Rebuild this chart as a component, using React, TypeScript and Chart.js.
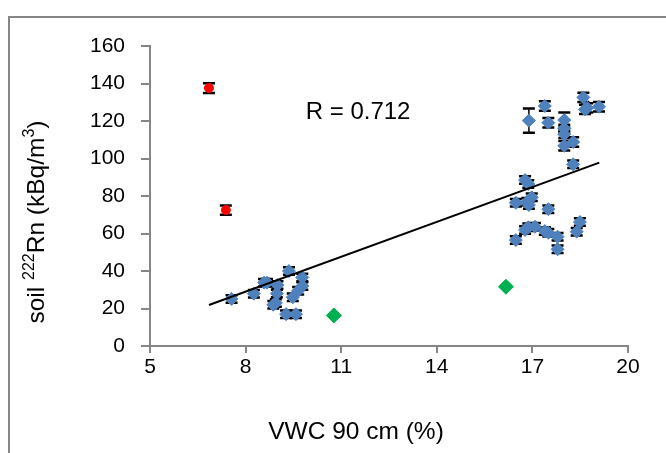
import React, { useEffect, useRef } from 'react';
import { Chart, registerables } from 'chart.js';

Chart.register(...registerables);

// ---- data ----
const blueX = [7.56, 8.26, 8.58, 8.67, 9.0, 8.98, 8.95, 8.87, 9.36, 9.27, 9.58, 9.48, 9.65, 9.78, 9.78,
  16.89, 17.39, 17.5, 18.0, 18.0, 18.0, 18.0, 18.28, 18.28, 18.6, 18.65, 18.72, 19.09,
  16.77, 16.87, 16.48, 16.84, 16.98, 16.89, 17.5, 18.49, 18.39,
  16.48, 16.77, 16.87, 17.08, 17.39, 17.5, 17.79, 17.79];
const blueY = [25.1, 27.9, 33.8, 33.8, 32.5, 28, 23, 22, 40, 17, 17, 26, 29.5, 32, 36.6,
  120.2, 128, 119.1, 120.5, 116, 112.9, 106.8, 108.8, 96.9, 132.6, 126.2, 127, 127.6,
  88.5, 86.4, 76.4, 77, 79.3, 75.2, 73, 66.1, 61,
  56.5, 61.9, 63.3, 63.6, 61.3, 60.4, 58.3, 51.6];
const blueErr = [2, 2, 2, 2, 2, 2, 2, 2, 2, 2, 2, 2, 2, 2, 2,
  6.5, 2.5, 2.5, 4, 2, 2, 2.5, 2.5, 2, 2.5, 2.5, 2.5, 2.5,
  2, 2, 2, 2, 2, 2, 2, 2, 2,
  2, 2, 2, 2, 2, 2, 2, 2];
const redX = [6.85, 7.38];
const redY = [137.6, 72.5];
const redErr = [2.6, 2.5];
const greenX = [10.77, 16.17];
const greenY = [16.3, 31.6];
const trendX = [6.85, 19.1];
const trendY = [21.9, 97.8];
const rText = 'R = 0.712';
const rPos = [11.53, 124.8];
const xTitle = 'VWC 90 cm (%)';
// y title pieces: [text, isSuperscript]
const yTitleParts: [string, boolean][] = [['soil ', false], ['222', true], ['Rn (kBq/m', false], ['3', true], [')', false]];

const FONT = "'Liberation Sans', Arial, sans-serif";
const AXIS = '#868686';

const toPts = (xs: number[], ys: number[]) => xs.map((x, i) => ({ x, y: ys[i] }));

const errorBars = {
  id: 'errorBars',
  beforeDatasetsDraw(chart: any) {
    const ctx = chart.ctx;
    const ys = chart.scales.y;
    chart.data.datasets.forEach((ds: any, di: number) => {
      if (!ds.errors) return;
      const meta = chart.getDatasetMeta(di);
      meta.data.forEach((pt: any, i: number) => {
        const v = ds.data[i].y;
        const e = ds.errors[i];
        const top = ys.getPixelForValue(v + e);
        const bot = ys.getPixelForValue(v - e);
        ctx.save();
        ctx.strokeStyle = '#000';
        ctx.lineWidth = 1.5;
        ctx.beginPath();
        ctx.moveTo(pt.x, top);
        ctx.lineTo(pt.x, bot);
        ctx.stroke();
        ctx.lineWidth = 2.5;
        ctx.beginPath();
        ctx.moveTo(pt.x - 6, top);
        ctx.lineTo(pt.x + 6, top);
        ctx.moveTo(pt.x - 6, bot);
        ctx.lineTo(pt.x + 6, bot);
        ctx.stroke();
        ctx.restore();
      });
    });
  },
};

const texts = {
  id: 'texts',
  afterDraw(chart: any) {
    const ctx = chart.ctx;
    const area = chart.chartArea;
    ctx.save();
    ctx.fillStyle = '#000';
    // R label at data position
    const px = chart.scales.x.getPixelForValue(rPos[0]);
    const py = chart.scales.y.getPixelForValue(rPos[1]);
    ctx.font = `24px ${FONT}`;
    ctx.textAlign = 'center';
    ctx.textBaseline = 'middle';
    ctx.fillText(rText, px, py);
    // x title
    ctx.font = `24.5px ${FONT}`;
    ctx.fillText(xTitle, area.left + 206, area.bottom + 86);
    // y title (rotated, with superscripts)
    const mainF = `24.5px ${FONT}`;
    const supF = `16px ${FONT}`;
    let total = 0;
    yTitleParts.forEach(([t, sup]) => { ctx.font = sup ? supF : mainF; total += ctx.measureText(t).width; });
    ctx.translate(35, area.top + 176);
    ctx.rotate(-Math.PI / 2);
    ctx.textAlign = 'left';
    ctx.textBaseline = 'alphabetic';
    let x = -total / 2;
    yTitleParts.forEach(([t, sup]) => {
      ctx.font = sup ? supF : mainF;
      ctx.fillText(t, x, sup ? -1 : 8.5);
      x += ctx.measureText(t).width;
    });
    ctx.restore();
  },
};

export default function App() {
  const ref = useRef<HTMLCanvasElement>(null);
  useEffect(() => {
    if (!ref.current) return;
    const chart = new Chart(ref.current, {
      type: 'scatter',
      data: {
        datasets: [
          {
            type: 'line',
            data: toPts(trendX, trendY),
            borderColor: '#000',
            borderWidth: 2,
            pointRadius: 0,
            fill: false,
          } as any,
          {
            data: toPts(blueX, blueY),
            errors: blueErr,
            pointStyle: 'rectRot',
            pointRadius: 6.5,
            backgroundColor: '#4F81BD',
            borderColor: '#4F81BD',
            borderWidth: 1,
          } as any,
          {
            data: toPts(redX, redY),
            errors: redErr,
            pointStyle: 'circle',
            pointRadius: 4.5,
            backgroundColor: '#FF0000',
            borderColor: '#FF0000',
            borderWidth: 1,
          } as any,
          {
            data: toPts(greenX, greenY),
            pointStyle: 'rectRot',
            pointRadius: 7.5,
            backgroundColor: '#00B050',
            borderColor: '#00B050',
            borderWidth: 1,
          } as any,
        ],
      },
      options: {
        responsive: false,
        animation: false,
        layout: { padding: { left: 0, right: 38, top: 46, bottom: 0 } },
        plugins: { legend: { display: false }, tooltip: { enabled: false } },
        scales: {
          x: {
            type: 'linear',
            min: 5,
            max: 20,
            afterFit: (s: any) => { s.height = 107; },
            ticks: { stepSize: 3, color: '#000', font: { family: FONT, size: 21 }, padding: 2 },
            grid: { drawOnChartArea: false, drawTicks: true, tickLength: 7, color: AXIS, lineWidth: 2 },
            border: { display: true, color: AXIS, width: 2 },
          },
          y: {
            type: 'linear',
            min: 0,
            max: 160,
            afterFit: (s: any) => { s.width = 150; },
            ticks: { stepSize: 20, color: '#000', font: { family: FONT, size: 21 }, padding: 16 },
            grid: { drawOnChartArea: false, drawTicks: true, tickLength: 9, color: AXIS, lineWidth: 2 },
            border: { display: true, color: AXIS, width: 2 },
          },
        },
      } as any,
      plugins: [errorBars, texts],
    });
    return () => chart.destroy();
  }, []);

  return (
    <div style={{ position: 'fixed', left: 0, top: 0, width: 666, height: 453, overflow: 'hidden', background: '#fff' }}>
      <div style={{ position: 'absolute', left: 8, top: 16, width: 720, height: 520, border: `2px solid ${AXIS}` }} />
      <canvas ref={ref} width={666} height={453} style={{ position: 'absolute', left: 0, top: 0, width: 666, height: 453 }} />
    </div>
  );
}
